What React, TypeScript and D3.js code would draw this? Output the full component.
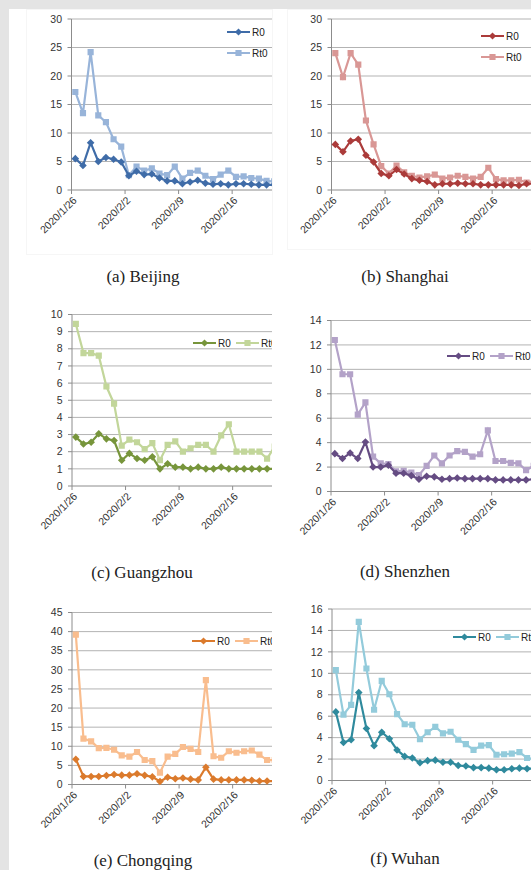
import React from 'react';
import * as d3 from 'd3';

const width = 531;
const height = 870;

const dates = ['1/26', '1/27', '1/28', '1/29', '1/30', '1/31', '2/1', '2/2', '2/3', '2/4', '2/5', '2/6', '2/7', '2/8',
  '2/9', '2/10', '2/11', '2/12', '2/13', '2/14', '2/15', '2/16', '2/17', '2/18', '2/19', '2/20', '2/21'];
const tickDates = ['1/26', '2/2', '2/9', '2/16'];
const tickLabels = ['2020/1/26', '2020/2/2', '2020/2/9', '2020/2/16'];

const beijingR0 = [5.5, 4.3, 8.3, 5.0, 5.7, 5.4, 4.9, 2.5, 3.3, 2.7, 2.8, 2.1, 1.6, 1.6, 1.1, 1.4, 1.7, 1.2, 1.0, 1.1, 0.9, 1.1, 1.1, 1.0, 0.9, 0.9, 0.9];
const beijingRt0 = [17.2, 13.5, 24.2, 13.1, 11.9, 8.9, 7.6, 2.6, 4.1, 3.4, 3.8, 2.9, 2.6, 4.1, 2.0, 3.0, 3.4, 2.5, 1.9, 2.7, 3.4, 2.3, 2.4, 2.1, 2.0, 1.6, 1.5];
const shanghaiR0 = [8.0, 6.7, 8.6, 8.9, 6.1, 4.9, 2.9, 2.5, 3.6, 2.8, 2.0, 1.7, 1.5, 0.9, 1.1, 1.1, 1.2, 1.1, 1.1, 0.9, 0.9, 0.9, 0.9, 0.9, 0.8, 1.1, 1.1];
const shanghaiRt0 = [24.0, 19.8, 24.0, 22.0, 12.2, 8.0, 4.2, 2.9, 4.3, 3.1, 2.5, 2.2, 2.4, 2.7, 2.0, 2.2, 2.5, 2.3, 2.0, 2.3, 3.9, 1.9, 1.7, 1.7, 1.8, 1.3, 1.6];
const guangzhouR0 = [2.85, 2.45, 2.55, 3.05, 2.75, 2.65, 1.5, 1.9, 1.6, 1.5, 1.7, 1.0, 1.3, 1.1, 1.1, 1.0, 1.1, 1.0, 1.0, 1.1, 1.0, 1.0, 1.0, 1.0, 1.0, 1.0, 1.0];
const guangzhouRt0 = [9.45, 7.75, 7.75, 7.6, 5.8, 4.8, 2.35, 2.7, 2.55, 2.15, 2.5, 1.5, 2.4, 2.6, 2.0, 2.2, 2.4, 2.4, 2.0, 2.95, 3.6, 2.0, 2.0, 2.0, 2.0, 1.6, 2.3];
const shenzhenR0 = [3.1, 2.7, 3.15, 2.7, 4.05, 2.0, 2.0, 2.15, 1.5, 1.5, 1.3, 1.0, 1.25, 1.2, 1.0, 1.05, 1.1, 1.05, 1.05, 1.05, 1.05, 0.95, 0.95, 0.95, 0.95, 0.95, 1.0];
const shenzhenRt0 = [12.4, 9.6, 9.6, 6.3, 7.3, 2.85, 2.3, 2.25, 1.65, 1.7, 1.55, 1.35, 2.1, 2.95, 2.3, 2.95, 3.3, 3.25, 2.85, 3.05, 5.0, 2.5, 2.5, 2.35, 2.3, 1.75, 2.1];
const chongqingR0 = [6.6, 2.1, 2.1, 2.1, 2.35, 2.6, 2.45, 2.45, 2.8, 2.4, 2.0, 0.8, 1.9, 1.5, 1.7, 1.4, 1.2, 4.5, 1.4, 1.2, 1.2, 1.2, 1.2, 1.1, 0.9, 0.9, 0.9];
const chongqingRt0 = [39.2, 12.0, 11.3, 9.5, 9.6, 9.1, 7.6, 7.3, 8.5, 6.4, 6.1, 3.1, 7.3, 8.0, 9.8, 9.3, 8.5, 27.3, 7.4, 7.0, 8.7, 8.3, 8.7, 8.9, 7.8, 6.4, 6.4];
const wuhanR0 = [6.4, 3.55, 3.8, 8.2, 4.85, 3.25, 4.5, 3.9, 2.85, 2.25, 2.1, 1.65, 1.85, 1.9, 1.7, 1.7, 1.4, 1.35, 1.2, 1.2, 1.15, 1.0, 1.0, 1.1, 1.15, 1.1, 1.1];
const wuhanRt0 = [10.3, 6.15, 7.05, 14.8, 10.45, 6.6, 9.3, 8.05, 6.2, 5.25, 5.2, 3.85, 4.5, 5.0, 4.4, 4.55, 3.8, 3.4, 2.85, 3.25, 3.3, 2.4, 2.45, 2.5, 2.65, 2.1, 2.0];

const captions = ['(a) Beijing', '(b) Shanghai', '(c) Guangzhou', '(d) Shenzhen', '(e) Chongqing', '(f) Wuhan'];
const seriesNames = ['R0', 'Rt0'];

const dayWidth = 7.65;
const axisFont = "'Liberation Sans', Arial, sans-serif";

// layout of each little chart (pixels), values live in the arrays above
const panels = [
  { r0: beijingR0, rt0: beijingRt0, max: 30, step: 5, left: 71.5, top: 19, bottom: 190, clipR: 272,
    c0: '#3f6ca8', c1: '#98b4d9', legend: 'vertical', lx: 227, ly: 32, cap: [143, 282] },
  { r0: shanghaiR0, rt0: shanghaiRt0, max: 30, step: 5, left: 331.5, top: 19, bottom: 190, clipR: 531,
    c0: '#ab3b3a', c1: '#d99795', legend: 'vertical', lx: 481, ly: 36, cap: [405, 282] },
  { r0: guangzhouR0, rt0: guangzhouRt0, max: 10, step: 1, left: 72, top: 314.5, bottom: 486, clipR: 272,
    c0: '#77953b', c1: '#c2d69a', legend: 'horizontal', lx: 193, ly: 343, cap: [142, 578] },
  { r0: shenzhenR0, rt0: shenzhenRt0, max: 14, step: 2, left: 331, top: 320.5, bottom: 491.5, clipR: 531,
    c0: '#654c83', c1: '#b3a2c8', legend: 'horizontal', lx: 447, ly: 356, cap: [405, 577] },
  { r0: chongqingR0, rt0: chongqingRt0, max: 45, step: 5, left: 72, top: 612.5, bottom: 784.5, clipR: 272,
    c0: '#db7a2c', c1: '#f9bd8e', legend: 'horizontal', lx: 192, ly: 641, cap: [143, 866] },
  { r0: wuhanR0, rt0: wuhanRt0, max: 16, step: 2, left: 332, top: 609, bottom: 780.5, clipR: 531,
    c0: '#2f8a9d', c1: '#93cbdb', legend: 'horizontal', lx: 453, ly: 637, cap: [405, 864] },
];

const diamond = (r: number) => `M0,${-r}L${r},0L0,${r}L${-r},0Z`;
const square = d3.symbol(d3.symbolSquare, 38)();

const Legend = ({ p }) => {
  const items = seriesNames.map((name, i) => {
    const x = p.legend === 'vertical' ? p.lx : p.lx + i * 43;
    const y = p.legend === 'vertical' ? p.ly + i * 21 : p.ly;
    const color = i === 0 ? p.c0 : p.c1;
    return (
      <g key={name} transform={`translate(${x},${y})`}>
        <line x1={0} x2={23} y1={0} y2={0} stroke={color} strokeWidth={2.2} />
        <path d={i === 0 ? diamond(3.6) : square} transform="translate(11.5,0)" fill={color} />
        <text x={25} dy="0.35em" fontSize={10} fill="#222" fontFamily={axisFont}>{name}</text>
      </g>
    );
  });
  return <g>{items}</g>;
};

const Panel = ({ p, idx }) => {
  const x = d3.scaleBand().domain(dates).range([p.left, p.left + dates.length * dayWidth]).padding(0);
  const y = d3.scaleLinear().domain([0, p.max]).range([p.bottom, p.top]);
  const cx = (i: number) => x(dates[i]) + x.bandwidth() / 2;
  const line = d3.line<number>().x((d, i) => cx(i)).y(d => y(d));
  const yTicks = d3.range(0, p.max + 0.001, p.step);
  const clipId = `clip${idx}`;

  return (
    <g>
      <defs>
        <clipPath id={clipId}>
          <rect x={p.left - 70} y={p.top - 15} width={p.clipR - p.left + 70} height={p.bottom - p.top + 90} />
        </clipPath>
      </defs>
      <g clipPath={`url(#${clipId})`}>
        {yTicks.map(t => (
          <g key={t}>
            <line x1={p.left} x2={p.clipR} y1={y(t)} y2={y(t)} stroke={t === 0 ? '#8c8c8c' : '#b3b3b3'} strokeWidth={1} />
            <line x1={p.left - 4} x2={p.left} y1={y(t)} y2={y(t)} stroke="#8c8c8c" />
            <text x={p.left - 9.5} y={y(t)} dy="0.35em" textAnchor="end" fontSize={10.5} fill="#333"
              fontFamily={axisFont}>{t}</text>
          </g>
        ))}
        <line x1={p.left} x2={p.left} y1={p.top} y2={p.bottom} stroke="#8c8c8c" />
        {tickDates.map((d, i) => (
          <g key={d} transform={`translate(${x(d)},${p.bottom})`}>
            <line y1={0} y2={4} stroke="#8c8c8c" />
            <text transform="translate(6,11) rotate(-45)" textAnchor="end" fontSize={10.5} fill="#333"
              fontFamily={axisFont}>{tickLabels[i]}</text>
          </g>
        ))}
        <path d={line(p.rt0)} fill="none" stroke={p.c1} strokeWidth={2.2} />
        {p.rt0.map((v, i) => (
          <path key={i} d={square} transform={`translate(${cx(i)},${y(v)})`} fill={p.c1} />
        ))}
        <path d={line(p.r0)} fill="none" stroke={p.c0} strokeWidth={2.2} />
        {p.r0.map((v, i) => (
          <path key={i} d={diamond(3.8)} transform={`translate(${cx(i)},${y(v)})`} fill={p.c0} />
        ))}
        <Legend p={p} />
      </g>
      <text x={p.cap[0]} y={p.cap[1]} textAnchor="middle" fontSize={17} fill="#222"
        fontFamily="'Liberation Serif', 'Times New Roman', serif">{captions[idx]}</text>
    </g>
  );
};

const App = () => (
  <div style={{ position: 'absolute', left: 0, top: 0 }}>
    <svg width={width} height={height} style={{ display: 'block' }}>
      <rect x={0} y={0} width={width} height={height} fill="#e4e4e4" />
      <rect x={9} y={9} width={width - 9} height={height - 9} fill="#ffffff" />
      <rect x={26.5} y={9.5} width={246} height={245} fill="none" stroke="#f6f6f6" />
      <rect x={287.5} y={9.5} width={250} height={240} fill="none" stroke="#f6f6f6" />
      {panels.map((p, i) => <Panel key={i} p={p} idx={i} />)}
    </svg>
  </div>
);

export default App;
